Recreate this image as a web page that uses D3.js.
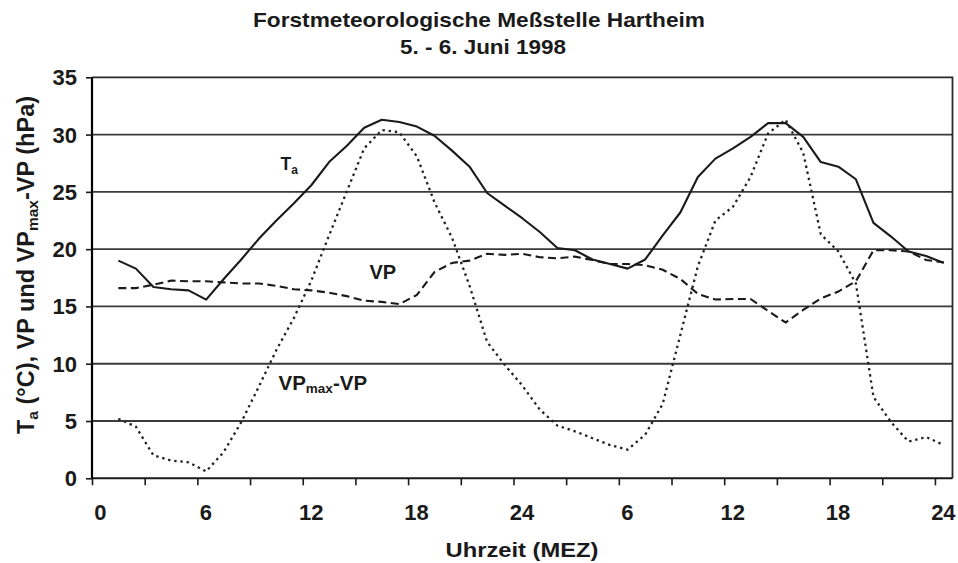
<!DOCTYPE html>
<html>
<head>
<meta charset="utf-8">
<script src="https://cdn.jsdelivr.net/npm/d3@7"></script>
<style>
  body { margin: 0; background: #fff; }
  svg { display: block; }
  text { font-family: Arial, "Liberation Sans", sans-serif; font-weight: bold; fill: #1a1a1a; }
</style>
</head>
<body>
<svg id="chart" width="958" height="563"></svg>
<script>
// ---- data (hourly means, plotted at the middle of each hour; 0-24 = 5 June, 24-48 = 6 June) ----
const hours = [1.5,2.5,3.5,4.5,5.5,6.5,7.5,8.5,9.5,10.5,11.5,12.5,13.5,14.5,15.5,16.5,17.5,18.5,19.5,20.5,21.5,22.5,23.5,24.5,
               25.5,26.5,27.5,28.5,29.5,30.5,31.5,32.5,33.5,34.5,35.5,36.5,37.5,38.5,39.5,40.5,41.5,42.5,43.5,44.5,45.5,46.5,47.5,48.5];
const ta  = [19.0,18.3,16.7,16.5,16.4,15.6,17.4,19.1,20.9,22.5,24.0,25.6,27.6,29.0,30.6,31.3,31.1,30.7,29.9,28.6,27.2,24.9,23.8,22.7,
             21.5,20.1,19.9,19.1,18.7,18.3,19.1,21.2,23.2,26.3,27.9,28.8,29.8,31.0,31.0,29.8,27.6,27.2,26.1,22.3,21.1,19.8,19.4,18.8];
const vp  = [16.6,16.6,16.9,17.25,17.2,17.2,17.1,17.0,17.0,16.8,16.5,16.4,16.2,15.9,15.5,15.4,15.2,16.0,18.0,18.8,19.0,19.6,19.5,19.6,
             19.3,19.2,19.35,19.05,18.7,18.7,18.6,18.2,17.4,16.1,15.6,15.65,15.65,14.6,13.6,14.7,15.7,16.3,17.2,19.9,19.9,19.8,19.05,18.85];
const vpd = [5.2,4.5,2.0,1.55,1.4,0.6,2.3,4.9,8.0,11.2,14.0,17.3,21.2,25.0,28.8,30.4,30.2,28.1,24.1,21.0,16.8,11.9,9.9,8.1,
             6.0,4.6,4.1,3.5,2.9,2.5,3.8,6.5,12.5,18.5,22.5,23.7,26.3,30.1,31.3,28.4,21.3,19.8,17.0,7.1,4.9,3.2,3.6,2.9];

const xTickHours  = [0,3,6,9,12,15,18,21,24,27,30,33,36,39,42,45,48];
const xLabelHours = [0,6,12,18,24,30,36,42,48];
const xLabels     = ["0","6","12","18","24","6","12","18","24"];
const yTicks      = [0,5,10,15,20,25,30,35];

const title1 = "Forstmeteorologische Meßstelle Hartheim";
const title2 = "5. - 6. Juni 1998";
const xTitle = "Uhrzeit (MEZ)";

// ---- layout ----
const svg = d3.select("#chart");
const x = d3.scaleLinear().domain([0, 49]).range([92, 952.5]);
const y = d3.scaleLinear().domain([0, 35]).range([478.3, 77.3]);
const ink = "#1a1a1a";

// gridlines
svg.append("g").selectAll("line").data(yTicks.filter(v => v > 0 && v < 35)).join("line")
  .attr("x1", x(0)).attr("x2", x(49))
  .attr("y1", d => y(d)).attr("y2", d => y(d))
  .attr("stroke", "#3a3a3a").attr("stroke-width", 1.8);

// frame (top + right)
svg.append("path")
  .attr("d", `M${x(0)},${y(35)}H${x(49)}V${y(0)}`)
  .attr("fill", "none").attr("stroke", "#2a2a2a").attr("stroke-width", 1.8);

// series
const line = vals => d3.line().x((d, i) => x(hours[i])).y(d => y(d))(vals);
svg.append("path").attr("d", line(vpd)).attr("fill", "none")
  .attr("stroke", "#222").attr("stroke-width", 2.3).attr("stroke-dasharray", "2.4,3.8");
svg.append("path").attr("d", line(vp)).attr("fill", "none")
  .attr("stroke", ink).attr("stroke-width", 2.1).attr("stroke-dasharray", "8,4.5");
svg.append("path").attr("d", line(ta)).attr("fill", "none")
  .attr("stroke", ink).attr("stroke-width", 2.1).attr("stroke-linejoin", "round");

// x axis
const xAxis = d3.axisBottom(x).tickValues(xTickHours).tickSize(7).tickFormat("");
const gx = svg.append("g").attr("transform", `translate(0,${y(0)})`).call(xAxis);
gx.select(".domain").attr("stroke", ink).attr("stroke-width", 2).attr("d", `M${x(0)},0H${x(49)}`);
gx.selectAll(".tick line").attr("stroke", ink).attr("stroke-width", 1.6);

svg.append("g").selectAll("text").data(xLabelHours).join("text")
  .attr("x", d => x(d + 0.48)).attr("y", 520)
  .attr("text-anchor", "middle").attr("font-size", 22)
  .text((d, i) => xLabels[i]);

// y axis
const yAxis = d3.axisLeft(y).tickValues(yTicks).tickSize(6).tickFormat("");
const gy = svg.append("g").attr("transform", `translate(${x(0)},0)`).call(yAxis);
gy.select(".domain").attr("stroke", "#000").attr("stroke-width", 2.2).attr("d", `M0,${y(35)}V${y(0)}`);
gy.selectAll(".tick line").attr("stroke", ink).attr("stroke-width", 1.6);

svg.append("g").selectAll("text").data(yTicks).join("text")
  .attr("x", 77).attr("y", d => y(d) + 8)
  .attr("text-anchor", "end").attr("font-size", 22)
  .text(d => d);

// titles
svg.append("text").attr("x", 479).attr("y", 26.5).attr("text-anchor", "middle")
  .attr("font-size", 20.5).attr("textLength", 452).attr("lengthAdjust", "spacingAndGlyphs").text(title1);
svg.append("text").attr("x", 483).attr("y", 53.5).attr("text-anchor", "middle")
  .attr("font-size", 19.5).attr("textLength", 166).attr("lengthAdjust", "spacingAndGlyphs").text(title2);
svg.append("text").attr("x", 522).attr("y", 557).attr("text-anchor", "middle")
  .attr("font-size", 21).attr("textLength", 153).attr("lengthAdjust", "spacingAndGlyphs").text(xTitle);

// y axis title (rotated)
const yt = svg.append("text").attr("transform", "translate(34,265) rotate(-90)")
  .attr("text-anchor", "middle").attr("font-size", 23.5);
yt.append("tspan").text("T");
yt.append("tspan").attr("font-size", 15.5).attr("dy", 4).text("a");
yt.append("tspan").attr("dy", -4).text(" (°C), VP und VP");
yt.append("tspan").attr("font-size", 15.5).attr("dy", 4).text("max");
yt.append("tspan").attr("dy", -4).text("-VP (hPa)");

// series labels
const lt = svg.append("text").attr("x", 280.5).attr("y", 170).attr("font-size", 17.5);
lt.append("tspan").text("T");
lt.append("tspan").attr("font-size", 12).attr("dy", 4).text("a");

svg.append("text").attr("x", 369.5).attr("y", 278.5).attr("font-size", 20).text("VP");

const lv = svg.append("text").attr("x", 278.5).attr("y", 389.5).attr("font-size", 20.5);
lv.append("tspan").text("VP");
lv.append("tspan").attr("font-size", 13.5).attr("dy", 3).text("max");
lv.append("tspan").attr("dy", -3).text("-VP");
</script>
</body>
</html>
